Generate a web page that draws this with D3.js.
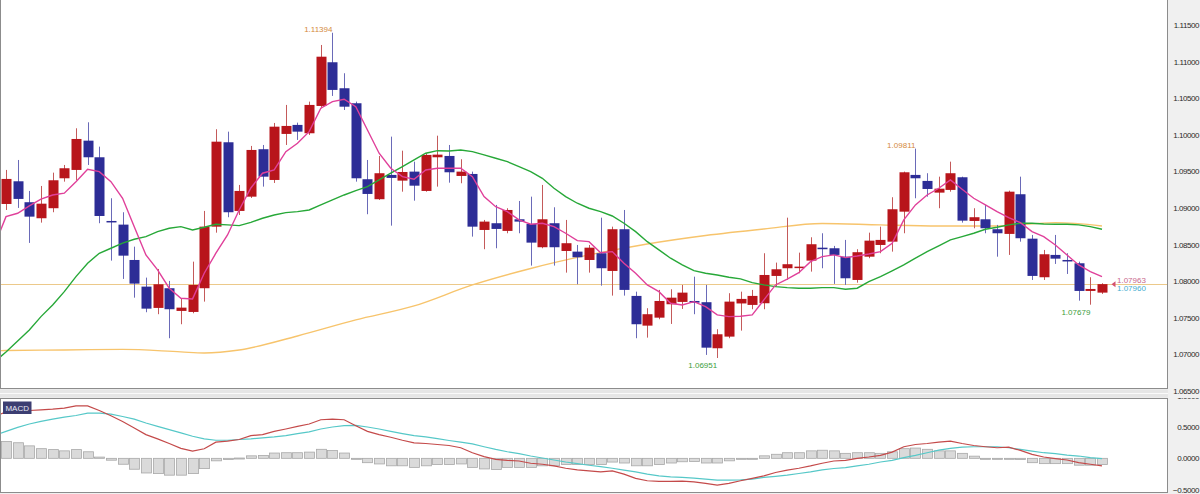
<!DOCTYPE html>
<html><head><meta charset="utf-8">
<script src="https://cdn.jsdelivr.net/npm/d3@7"></script>
<style>
html,body{margin:0;padding:0;background:#f0f0f0;}
svg{display:block;font-family:"Liberation Sans",Arial,sans-serif;}
</style></head><body>
<svg id="c" width="1200" height="494"></svg>
<script>
// ---- data (daily candles, index 0..94) ----
const opens = [1.09055,1.09365,1.09079,1.08860,1.08997,1.09406,1.09520,1.09920,1.09693,1.08823,
1.08773,1.08290,1.07926,1.07635,1.07904,1.07594,1.07580,1.07904,1.08745,1.09898,
1.08960,1.09155,1.09803,1.09383,1.10012,1.10135,1.10021,1.10394,1.10991,1.10636,
1.10431,1.09393,1.09120,1.09452,1.09374,1.09497,1.09233,1.09693,1.09711,1.09438,
1.09465,1.08700,1.08792,1.08687,1.08846,1.08782,1.08464,1.08792,1.08413,1.08404,
1.08290,1.08382,1.08140,1.08710,1.07799,1.07393,1.07502,1.07685,1.07717,1.07730,
1.07713,1.07084,1.07243,1.07696,1.07676,1.07699,1.08072,1.08177,1.08181,1.08281,
1.08458,1.08450,1.08335,1.08017,1.08335,1.08495,1.08540,1.08950,1.09452,1.09370,
1.09210,1.09247,1.09420,1.08823,1.08846,1.08710,1.08646,1.09188,1.08581,1.08054,
1.08359,1.08290,1.08245,1.07867,1.07844];
const highs = [1.09520,1.09656,1.09233,1.09301,1.09483,1.09588,1.10089,1.10171,1.09838,1.09133,
1.08942,1.08472,1.08049,1.08167,1.08004,1.07767,1.08267,1.08960,1.10076,1.10043,
1.09315,1.09848,1.09861,1.10162,1.10408,1.10166,1.10453,1.11227,1.11394,1.10841,
1.10453,1.09656,1.09711,1.09975,1.09783,1.09633,1.09748,1.09988,1.09861,1.09666,
1.09497,1.08837,1.09042,1.08997,1.09096,1.09155,1.09315,1.09010,1.08837,1.08495,
1.08495,1.08868,1.08745,1.08973,1.07857,1.07631,1.07881,1.07890,1.07949,1.08062,
1.07949,1.07344,1.07836,1.07857,1.07881,1.08382,1.08254,1.08868,1.08390,1.08600,
1.08655,1.08482,1.08564,1.08437,1.08663,1.08745,1.09147,1.09497,1.09811,1.09475,
1.09428,1.09633,1.09428,1.08997,1.09042,1.08769,1.09237,1.09428,1.08632,1.08427,
1.08632,1.08382,1.08267,1.08054,1.07972];
const lows = [1.08973,1.09001,1.08523,1.08800,1.08942,1.09360,1.09383,1.09588,1.08792,1.08281,
1.08031,1.07775,1.07576,1.07549,1.07221,1.07412,1.07562,1.07721,1.08663,1.08874,
1.08905,1.09137,1.09292,1.09342,1.09861,1.09930,1.09998,1.10363,1.10531,1.10339,
1.09360,1.08915,1.09110,1.08759,1.09223,1.09100,1.09223,1.09292,1.09346,1.09338,
1.08609,1.08437,1.08450,1.08655,1.08655,1.08213,1.08450,1.08213,1.08117,1.07958,
1.08117,1.07939,1.07803,1.07803,1.07221,1.07229,1.07480,1.07416,1.07621,1.07549,
1.06993,1.06951,1.07221,1.07325,1.07617,1.07617,1.07926,1.08017,1.08109,1.08131,
1.08177,1.07963,1.07949,1.07980,1.08314,1.08382,1.08404,1.08655,1.09133,1.09155,
1.08997,1.09223,1.08800,1.08723,1.08655,1.08335,1.08359,1.08540,1.08017,1.08017,
1.08236,1.08099,1.07734,1.07679,1.07826];
const closes = [1.09397,1.09124,1.08882,1.09059,1.09379,1.09543,1.09943,1.09693,1.08891,1.08805,
1.08349,1.07967,1.07625,1.07958,1.07617,1.07639,1.07949,1.08745,1.09906,1.08942,
1.09233,1.09793,1.09428,1.10111,1.10121,1.10043,1.10408,1.11067,1.10613,1.10384,
1.09406,1.09192,1.09475,1.09411,1.09492,1.09305,1.09725,1.09729,1.09488,1.09497,
1.08745,1.08814,1.08714,1.08973,1.08814,1.08527,1.08846,1.08464,1.08519,1.08327,
1.08458,1.08177,1.08710,1.07881,1.07412,1.07549,1.07730,1.07775,1.07844,1.07707,
1.07092,1.07275,1.07721,1.07758,1.07799,1.08085,1.08163,1.08232,1.08199,1.08505,
1.08437,1.08359,1.08040,1.08396,1.08554,1.08564,1.08983,1.09488,1.09406,1.09260,
1.09264,1.09475,1.08827,1.08874,1.08723,1.08655,1.09223,1.08587,1.08072,1.08368,
1.08308,1.08273,1.07867,1.07894,1.07960];

// moving averages, index -1..94
const maShort = [1.08482,1.08882,1.08928,1.09028,1.09120,1.09178,1.09202,1.09360,1.09529,1.09497,1.09360,
1.09133,1.08745,1.08359,1.08154,1.07904,1.07767,1.07758,1.08109,1.08382,1.08632,
1.08973,1.09274,1.09475,1.09520,1.09770,1.09885,1.10043,1.10363,1.10453,1.10486,
1.10384,1.10066,1.09748,1.09543,1.09428,1.09393,1.09520,1.09543,1.09543,1.09543,
1.09428,1.09155,1.09018,1.08950,1.08837,1.08778,1.08792,1.08745,1.08655,1.08554,
1.08540,1.08390,1.08404,1.08245,1.08109,1.07949,1.07857,1.07699,1.07676,1.07721,
1.07652,1.07539,1.07516,1.07521,1.07539,1.07744,1.07949,1.08027,1.08117,1.08267,
1.08335,1.08359,1.08322,1.08345,1.08372,1.08404,1.08519,1.08837,1.09042,1.09178,
1.09270,1.09383,1.09256,1.09133,1.09042,1.08950,1.08868,1.08800,1.08677,1.08609,
1.08495,1.08359,1.08222,1.08131,1.08062];
const maMid = [1.06897,1.07034,1.07184,1.07334,1.07516,1.07676,1.07857,1.08062,1.08245,1.08382,1.08450,
1.08519,1.08573,1.08609,1.08677,1.08723,1.08745,1.08700,1.08737,1.08778,1.08769,
1.08759,1.08803,1.08860,1.08905,1.08937,1.08950,1.08973,1.09042,1.09110,1.09178,
1.09237,1.09292,1.09383,1.09475,1.09565,1.09656,1.09748,1.09783,1.09779,1.09793,
1.09770,1.09725,1.09680,1.09633,1.09565,1.09497,1.09406,1.09270,1.09155,1.09065,
1.08997,1.08950,1.08891,1.08792,1.08677,1.08540,1.08427,1.08314,1.08222,1.08144,
1.08109,1.08085,1.08054,1.08031,1.07980,1.07949,1.07926,1.07912,1.07904,1.07904,
1.07912,1.07912,1.07890,1.07904,1.07994,1.08062,1.08140,1.08222,1.08314,1.08404,
1.08482,1.08564,1.08609,1.08655,1.08710,1.08737,1.08769,1.08792,1.08792,1.08782,
1.08778,1.08778,1.08769,1.08745,1.08710];
const maLongIdx = [-1,0,5,10,15,17,20,25,30,35,40,45,50,55,60,65,70,75,80,85,90,94];
const maLong = [1.07047,1.07054,1.07061,1.07068,1.07034,1.07020,1.07061,1.07252,1.07471,1.07662,1.07949,1.08174,1.08359,1.08509,1.08625,1.08714,1.08789,1.08769,1.08755,1.08755,1.08800,1.08755];

// MACD, index -1..94
const macdLine = [0.667,0.746,0.767,0.767,0.778,0.789,0.805,0.841,0.841,0.767,0.683,
0.592,0.487,0.381,0.313,0.238,0.159,0.116,0.154,0.259,0.275,
0.302,0.365,0.381,0.433,0.471,0.513,0.551,0.619,0.630,0.619,
0.524,0.433,0.381,0.338,0.290,0.249,0.238,0.222,0.206,0.170,
0.090,0.027,-0.016,-0.032,-0.043,-0.079,-0.095,-0.122,-0.159,-0.186,
-0.202,-0.217,-0.202,-0.254,-0.322,-0.360,-0.370,-0.370,-0.365,-0.378,
-0.402,-0.429,-0.402,-0.360,-0.322,-0.281,-0.227,-0.190,-0.159,-0.122,
-0.079,-0.043,-0.032,0.000,0.021,0.048,0.100,0.186,0.222,0.238,
0.259,0.275,0.238,0.206,0.186,0.170,0.179,0.127,0.063,0.021,
-0.005,-0.027,-0.068,-0.095,-0.122];
const signalLine = [0.365,0.433,0.497,0.551,0.592,0.630,0.662,0.687,0.725,0.725,0.710,
0.671,0.630,0.567,0.513,0.460,0.408,0.354,0.313,0.290,0.290,
0.302,0.313,0.329,0.344,0.365,0.397,0.424,0.471,0.503,0.524,
0.529,0.503,0.471,0.433,0.397,0.365,0.344,0.317,0.286,0.259,
0.233,0.186,0.143,0.106,0.075,0.037,0.005,-0.027,-0.059,-0.084,
-0.111,-0.132,-0.159,-0.190,-0.217,-0.254,-0.281,-0.297,-0.306,-0.317,
-0.333,-0.349,-0.349,-0.344,-0.333,-0.306,-0.290,-0.270,-0.243,-0.217,
-0.186,-0.163,-0.148,-0.122,-0.095,-0.059,-0.032,0.011,0.048,0.090,
0.132,0.159,0.179,0.186,0.186,0.186,0.170,0.143,0.116,0.090,
0.075,0.052,0.037,0.011,-0.005];
// histogram, index 0..94
const histo = [0.27,0.25,0.20,0.155,0.14,0.12,0.14,0.105,0.02,-0.03,
-0.095,-0.175,-0.235,-0.245,-0.27,-0.27,-0.245,-0.165,-0.04,-0.02,
0.005,0.04,0.045,0.085,0.09,0.09,0.10,0.145,0.125,0.085,
0.0,-0.07,-0.09,-0.12,-0.12,-0.145,-0.12,-0.10,-0.10,-0.09,
-0.145,-0.17,-0.18,-0.145,-0.145,-0.145,-0.12,-0.12,-0.10,-0.10,
-0.10,-0.10,-0.06,-0.075,-0.12,-0.12,-0.10,-0.075,-0.055,-0.05,
-0.075,-0.075,-0.04,-0.005,0.0,0.04,0.065,0.09,0.09,0.12,
0.13,0.12,0.08,0.09,0.09,0.08,0.105,0.155,0.165,0.145,
0.12,0.12,0.08,0.035,0.0,-0.01,0.0,-0.02,-0.07,-0.085,
-0.085,-0.085,-0.11,-0.11,-0.10];

const priceTicks = [1.065,1.070,1.075,1.080,1.085,1.090,1.095,1.100,1.105,1.110,1.115];
const macdTicks = [-0.5,0,0.5,1.0];
const highMarks = [{i:28,v:1.11394},{i:78,v:1.09811}];
const lowMarks = [{i:61,v:1.06951},{i:93,v:1.07679}];
const lastLabels = ["1.07963","1.07960"];
const lastPrice = 1.07960;

// ---- drawing ----
const svg = d3.select("#c");
const W = 1200, H = 494, PR = 1167;
const x = d3.scaleLinear().domain([0,94]).range([6,1102]);
const yP = d3.scaleLinear().domain([1.065,1.115]).range([391,25]);
const yM = d3.scaleLinear().domain([-0.5,1.0]).range([489.5,396]);

svg.append("rect").attr("width",W).attr("height",H).attr("fill","#f0f0f0");
// main panel
svg.append("rect").attr("x",0.5).attr("y",-1).attr("width",PR).attr("height",389.5)
  .attr("fill","#fff").attr("stroke","#8c8c8c");
// separator
svg.append("rect").attr("x",0).attr("y",389.5).attr("width",PR+1).attr("height",8).attr("fill","#e6e6e6");
svg.append("line").attr("x1",0).attr("x2",PR+1).attr("y1",393.5).attr("y2",393.5).attr("stroke","#fafafa");
// macd panel
svg.append("rect").attr("x",0.5).attr("y",398.5).attr("width",PR).attr("height",94)
  .attr("fill","#fff").attr("stroke","#8c8c8c");

const defs = svg.append("defs");
defs.append("clipPath").attr("id","cm").append("rect").attr("x",1).attr("y",0).attr("width",PR-1).attr("height",388);
defs.append("clipPath").attr("id","cd").append("rect").attr("x",1).attr("y",399).attr("width",PR-1).attr("height",93);
defs.append("clipPath").attr("id","am").append("rect").attr("x",PR+1).attr("y",0).attr("width",40).attr("height",397);
defs.append("clipPath").attr("id","ad").append("rect").attr("x",PR+1).attr("y",398).attr("width",40).attr("height",96);

const gM = svg.append("g").attr("clip-path","url(#cm)");
// current price line
gM.append("line").attr("x1",0).attr("x2",PR).attr("y1",Math.round(yP(lastPrice))+0.5).attr("y2",Math.round(yP(lastPrice))+0.5)
  .attr("stroke","#ecc98a").attr("stroke-width",1);

const lineIdx = d3.line().x((d,k)=>x(k-1)).y(d=>yP(d));
gM.append("path").attr("d",d3.line().x((d,k)=>x(maLongIdx[k])).y(d=>yP(d)).curve(d3.curveMonotoneX)(maLong))
  .attr("fill","none").attr("stroke","#f7c46c").attr("stroke-width",1.4);

// candles
const idx = d3.range(opens.length);
const up = i => closes[i] >= opens[i];
const cg = gM.append("g");
cg.selectAll("line.w").data(idx).join("line")
  .attr("x1",i=>Math.round(x(i))+0.5).attr("x2",i=>Math.round(x(i))+0.5)
  .attr("y1",i=>yP(highs[i])).attr("y2",i=>yP(lows[i]))
  .attr("stroke",i=>up(i)?"#c45a5a":"#6a6ab8").attr("stroke-width",1);
cg.selectAll("rect.b").data(idx).join("rect")
  .attr("x",i=>Math.round(x(i))-4.5).attr("width",10)
  .attr("y",i=>yP(Math.max(opens[i],closes[i])))
  .attr("height",i=>Math.max(1.5,Math.abs(yP(opens[i])-yP(closes[i]))))
  .attr("fill",i=>up(i)?"#b8151b":"#2d2d96");

gM.append("path").attr("d",lineIdx(maMid)).attr("fill","none").attr("stroke","#27a838").attr("stroke-width",1.4);
gM.append("path").attr("d",lineIdx(maShort)).attr("fill","none").attr("stroke","#e0409a").attr("stroke-width",1.4);

// high/low labels
const lab = svg.append("g").attr("font-size","8px");
highMarks.forEach(m=>{
  lab.append("text").attr("x",x(m.i)).attr("y",yP(m.v)-0.5).attr("text-anchor","end")
    .attr("fill","#d48a3c").text(m.v.toFixed(5));
});
lowMarks.forEach(m=>{
  lab.append("text").attr("x",x(m.i)).attr("y",yP(m.v)+10.5).attr("text-anchor","end")
    .attr("fill","#3d9e3d").text(m.v.toFixed(5));
});
// last price marker
const ly = yP(lastPrice);
svg.append("path").attr("d",`M1111.5,${ly} L1115.5,${ly-3} L1115.5,${ly+3} Z`).attr("fill","#d4506e");
lab.append("text").attr("x",1117).attr("y",ly-0.8).attr("fill","#c8668c").text(lastLabels[0]);
lab.append("text").attr("x",1117).attr("y",ly+6.6).attr("fill","#45aed0").text(lastLabels[1]);

// MACD panel
const gD = svg.append("g").attr("clip-path","url(#cd)");
const z0 = yM(0);
gD.selectAll("rect").data(idx).join("rect")
  .attr("x",i=>Math.round(x(i))-4.5).attr("width",10)
  .attr("y",i=>Math.min(z0,yM(histo[i])))
  .attr("height",i=>Math.max(1,Math.abs(yM(histo[i])-z0)))
  .attr("fill","#dadada").attr("stroke","#a8a8a8").attr("stroke-width",0.8);
const lineM = d3.line().x((d,k)=>x(k-1)).y(d=>yM(d));
gD.append("path").attr("d",lineM(signalLine)).attr("fill","none").attr("stroke","#56c8c8").attr("stroke-width",1.2);
gD.append("path").attr("d",lineM(macdLine)).attr("fill","none").attr("stroke","#c44a4a").attr("stroke-width",1.2);
svg.append("rect").attr("x",3).attr("y",401.5).attr("width",28.5).attr("height",12.5).attr("fill","#3c3e72");
svg.append("text").attr("x",17.2).attr("y",411).attr("text-anchor","middle").attr("font-size","8px")
  .attr("fill","#e8e8f4").text("MACD");

// axes (outer group carries the clip, inner group the translation)
const axP = svg.append("g").attr("clip-path","url(#am)").append("g").attr("transform","translate(1199,0)")
  .call(d3.axisRight(yP).tickValues(priceTicks).tickSize(0).tickPadding(0).tickFormat(d3.format(".5f")));
const axD = svg.append("g").attr("clip-path","url(#ad)").append("g").attr("transform","translate(1199,0)")
  .call(d3.axisRight(yM).tickValues(macdTicks).tickSize(0).tickPadding(0).tickFormat(d3.format(".4f")));
[axP,axD].forEach(a=>{
  a.select(".domain").remove();
  a.attr("font-family",null).attr("font-size",null);
  a.selectAll("text").attr("text-anchor","end").attr("x",0).attr("fill","#2a2a2a")
    .style("font-size","8px").style("letter-spacing","-0.45px");
});
</script>
</body></html>
